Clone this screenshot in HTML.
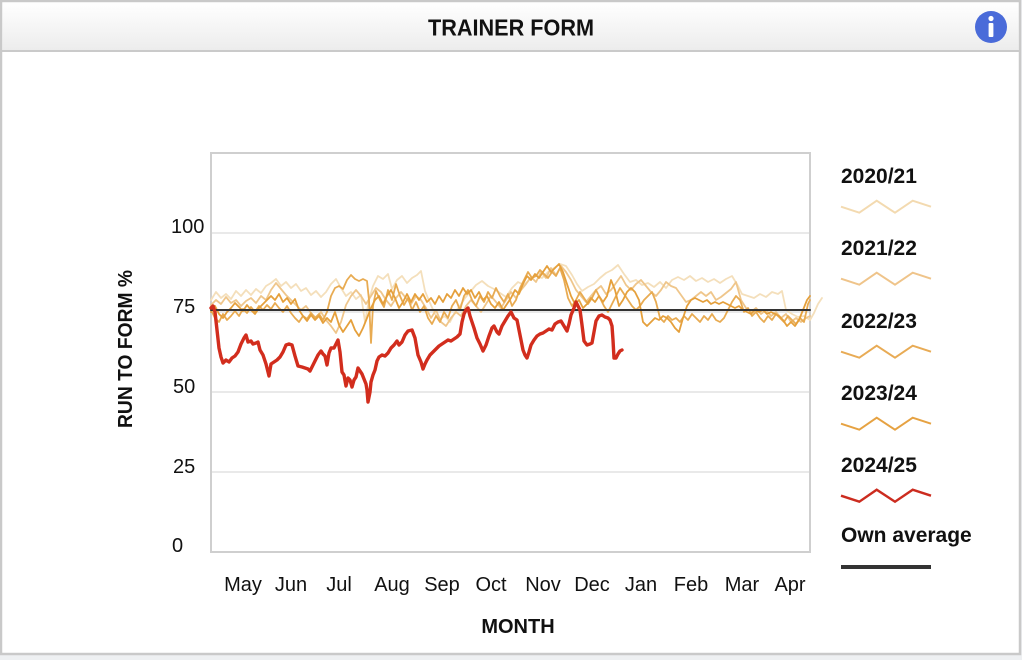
<!DOCTYPE html>
<html>
<head>
<meta charset="utf-8">
<style>
  html,body{margin:0;padding:0;background:#eef0f2;}
  body{width:1022px;height:660px;overflow:hidden;position:relative;font-family:"Liberation Sans",sans-serif;}
  svg{position:absolute;left:0;top:0;}
</style>
</head>
<body>
<svg width="1022" height="660" viewBox="0 0 1022 660" xmlns="http://www.w3.org/2000/svg" font-family="Liberation Sans, sans-serif">
  <defs>
    <linearGradient id="hdr" x1="0" y1="0" x2="0" y2="1">
      <stop offset="0" stop-color="#ffffff"/>
      <stop offset="1" stop-color="#ececec"/>
    </linearGradient>
  </defs>
  <!-- card -->
  <rect x="1" y="1" width="1019" height="653" fill="#ffffff" stroke="#c9c9c9" stroke-width="2.5"/>
  <rect x="2.5" y="2.5" width="1016" height="48" fill="url(#hdr)"/>
  <line x1="2" y1="51" x2="1019" y2="51" stroke="#cacaca" stroke-width="2"/>
  <text x="511" y="35.5" text-anchor="middle" font-size="23" font-weight="bold" fill="#111" textLength="166" lengthAdjust="spacingAndGlyphs">TRAINER FORM</text>
  <!-- info icon -->
  <ellipse cx="991" cy="27" rx="16" ry="16" fill="#4a6bd9"/>
  <circle cx="991" cy="18.5" r="2.6" fill="#fff"/>
  <rect x="988.6" y="23" width="4.8" height="14" rx="1" fill="#fff"/>

  <!-- grid -->
  <g stroke="#e2e2e2" stroke-width="1.5">
    <line x1="211" y1="233" x2="810" y2="233"/>
    <line x1="211" y1="312" x2="810" y2="312"/>
    <line x1="211" y1="392" x2="810" y2="392"/>
    <line x1="211" y1="472" x2="810" y2="472"/>
  </g>
  <rect x="211" y="153" width="599" height="399" fill="none" stroke="#cfcfcf" stroke-width="2"/>

  <!-- y labels -->
  <g font-size="20" fill="#111">
    <text x="171" y="233">100</text>
    <text x="173" y="313">75</text>
    <text x="173" y="393">50</text>
    <text x="173" y="473">25</text>
    <text x="172" y="552">0</text>
  </g>
  <text transform="translate(132,349) rotate(-90)" text-anchor="middle" font-size="20" font-weight="bold" fill="#111" textLength="158" lengthAdjust="spacingAndGlyphs">RUN TO FORM %</text>

  <!-- x labels -->
  <g font-size="20" fill="#111" text-anchor="middle">
    <text x="243" y="591">May</text>
    <text x="291" y="591">Jun</text>
    <text x="339" y="591">Jul</text>
    <text x="392" y="591">Aug</text>
    <text x="442" y="591">Sep</text>
    <text x="491" y="591">Oct</text>
    <text x="543" y="591">Nov</text>
    <text x="592" y="591">Dec</text>
    <text x="641" y="591">Jan</text>
    <text x="691" y="591">Feb</text>
    <text x="742" y="591">Mar</text>
    <text x="790" y="591">Apr</text>
  </g>
  <text x="518" y="633" text-anchor="middle" font-size="20" font-weight="bold" fill="#111">MONTH</text>

  <!-- series -->
  <g fill="none" stroke-linejoin="round" stroke-linecap="round">
    <!-- 2020/21 -->
    <polyline stroke="#f4dfbb" stroke-width="1.8" points="211,300 216,292 221,298 226,294 231,299 236,291 241,296 246,290 251,295 256,289 261,293 266,286 271,283 276,279 281,286 286,282 291,288 296,284 301,291 306,288 311,295 316,291 321,297 326,292 331,284 336,279 341,288 346,296 351,292 356,299 361,295 365,322 369,300 373,286 378,276 383,279 388,274 392,289 397,280 402,276 407,283 412,278 417,275 421,271 425,291 430,303 435,314 440,319 445,316 450,322 455,312 460,306 465,298 470,292 476,285 482,281 488,286 494,289 500,293 506,297 512,288 518,282 524,285 530,279 536,276 542,278 548,272 554,268 560,264 566,266 572,275 577,284 582,291 588,287 594,284 600,278 606,273 612,270 618,265 624,274 630,282 636,280 642,285 648,283 654,287 660,282 666,288 672,280 678,277 684,280 690,276 696,281 702,278 708,282 714,279 720,283 726,279 732,276 738,286 742,294 748,296 754,298 760,294 766,297 772,292 778,294 782,291 786,310 792,314 798,317 804,316 810,320 814,313 818,304 822,298"/>
    <!-- 2021/22 -->
    <polyline stroke="#efc68b" stroke-width="1.8" points="211,305 216,300 221,304 226,297 231,303 236,300 241,306 246,301 251,298 256,303 261,296 266,300 271,290 276,283 281,289 286,295 291,300 296,305 301,310 306,306 311,313 316,318 321,312 326,320 331,326 336,333 341,322 346,305 351,296 356,290 361,296 366,304 371,296 376,288 381,292 386,300 391,306 396,298 401,292 406,298 411,304 416,296 421,300 426,308 431,318 436,310 441,322 446,326 451,318 456,312 461,316 466,306 471,300 476,306 481,312 486,304 491,296 496,302 501,308 506,300 511,292 516,298 521,290 526,284 531,277 536,282 541,272 546,278 551,268 556,275 561,266 566,272 571,280 576,290 581,296 586,302 591,296 596,290 601,286 606,294 611,290 616,283 621,276 626,285 631,290 636,284 641,280 646,286 651,292 656,296 661,290 666,282 671,286 676,288 681,295 686,302 691,300 696,296 701,292 706,296 711,292 716,300 721,297 726,293 731,289 736,282 741,300 746,308 751,312 756,308 761,314 766,310 771,316 776,312 781,318 786,314 791,322 796,318 801,322 806,318 810,316"/>
    <!-- 2022/23 -->
    <polyline stroke="#e8ab52" stroke-width="1.8" points="211,310 215,318 219,322 223,314 227,320 231,316 235,311 239,316 243,309 247,313 251,307 255,312 259,306 263,310 267,305 271,309 275,303 279,308 283,312 287,306 291,313 295,318 299,322 303,316 307,319 311,313 315,318 319,314 323,320 327,312 331,296 335,288 339,286 343,289 347,280 351,275 355,279 359,281 363,279 367,281 369,300 371,343 373,306 376,291 380,300 384,307 388,290 392,300 396,284 400,296 404,305 408,298 412,310 416,302 420,312 424,306 428,318 432,324 436,316 440,322 444,312 448,318 452,306 456,300 460,310 464,296 468,290 472,300 476,306 480,296 484,302 488,292 492,298 496,288 500,296 504,302 508,294 512,306 516,300 520,288 524,280 528,272 532,278 536,276 540,270 544,274 548,278 552,272 556,276 560,268 564,280 568,298 572,306 576,300 580,292 584,298 588,304 592,298 596,290 600,298 604,306 608,312 612,304 616,296 620,288 624,294 628,300 632,306 636,310 640,306 644,300 648,296 652,292 656,302 660,318 664,322 668,316 672,320 676,318 680,322 684,316 688,320 692,314 696,318 700,322 704,316 708,320 712,314 716,320 720,322 724,318 728,310 732,302 736,296 740,300 744,312 748,308 752,316 756,312 760,318 764,322 768,316 772,320 776,314 780,318 784,322 788,316 792,320 796,324 800,318 804,322 808,304 810,300"/>
    <!-- 2023/24 -->
    <polyline stroke="#e5a03c" stroke-width="1.8" points="211,312 215,306 219,314 223,318 227,312 231,308 235,303 239,307 243,311 247,305 251,310 255,314 259,308 263,304 267,300 271,296 275,300 279,294 283,302 287,298 291,304 295,299 299,310 303,316 307,321 311,315 315,320 319,316 323,323 327,318 331,322 335,312 339,325 343,332 347,326 351,320 355,330 359,336 363,328 367,318 371,308 375,300 379,296 383,304 387,296 391,290 395,298 399,308 403,302 407,294 411,302 415,294 419,300 423,294 427,302 431,298 435,304 439,296 443,302 447,294 451,298 455,290 459,296 463,288 467,294 471,290 475,298 479,292 483,300 487,296 491,304 495,308 499,302 503,310 507,304 511,298 515,290 519,294 523,284 527,276 531,280 535,274 539,278 543,272 547,266 551,272 555,268 559,264 563,272 567,284 571,296 575,304 579,300 583,308 587,304 591,298 595,302 599,296 603,302 607,296 611,280 615,290 619,306 623,300 627,292 631,288 635,292 639,300 643,322 647,326 651,322 655,318 659,320 663,316 667,318 671,322 675,328 679,332 683,318 687,306 691,300 695,298 699,300 703,302 707,300 711,304 715,302 719,304 723,302 727,304 731,306 735,308 739,306 743,310 747,312 751,314 755,310 759,312 763,310 767,314 771,312 775,314 779,316 783,320 787,326 791,322 795,326 799,320 803,310 807,300 810,296"/>
    <!-- own average -->
    <line x1="211" y1="310" x2="810" y2="310" stroke="#333" stroke-width="2"/>
    <!-- 2024/25 -->
    <polyline stroke="#d22d1d" stroke-width="3.4" points="211,308 213,306 215,312 217,330 219,348 221,357 223,363 226,360 229,362 232,358 235,356 238,352 241,344 244,338 246,335 248,342 251,341 253,344 256,343 258,342 260,350 263,355 266,364 269,376 271,364 274,362 277,360 280,357 283,352 286,345 289,344 292,345 295,356 298,366 302,367 305,368 308,369 310,371 313,365 315,361 318,355 321,351 323,354 325,356 327,365 329,353 331,348 334,348 336,344 338,340 340,352 342,372 344,375 346,386 348,378 350,380 352,387 354,380 356,377 358,368 360,371 362,374 364,379 366,384 367,390 368,402 370,392 371,382 373,375 375,370 377,361 379,357 382,355 385,356 388,353 391,348 394,345 397,341 399,345 402,342 405,335 408,331 412,330 415,338 418,355 421,362 423,369 425,364 427,360 430,355 433,352 436,349 439,346 442,344 445,342 448,340 451,341 454,339 457,337 460,334 462,322 464,314 466,310 468,308 470,316 472,322 474,328 477,338 480,344 483,351 486,345 489,336 492,328 494,326 497,332 499,334 502,326 505,321 508,316 511,312 514,318 517,320 519,330 521,340 523,350 525,355 527,358 529,352 531,345 534,340 537,336 540,334 543,333 546,331 549,329 552,330 555,324 558,322 561,321 564,326 567,331 569,324 571,315 574,308 576,302 578,306 580,310 582,325 584,341 587,345 590,344 592,343 594,332 596,321 599,316 602,315 605,317 608,318 610,320 612,326 613,340 614,358 616,358 618,354 620,351 622,350"/>
  </g>

  <!-- legend -->
  <g font-size="21" font-weight="bold" fill="#111">
    <text x="841" y="183">2020/21</text>
    <text x="841" y="255">2021/22</text>
    <text x="841" y="328">2022/23</text>
    <text x="841" y="400">2023/24</text>
    <text x="841" y="472">2024/25</text>
    <text x="841" y="542">Own average</text>
  </g>
  <g fill="none" stroke-width="2" stroke-linejoin="miter">
    <polyline stroke="#f3dab0" points="841,206.7 859.3,212.7 876.7,200.7 895,212.7 912.7,200.7 931,206.7"/>
    <polyline stroke="#efc48a" points="841,278.7 859.3,284.7 876.7,272.7 895,284.7 912.7,272.7 931,278.7"/>
    <polyline stroke="#e8ab55" points="841,351.7 859.3,357.7 876.7,345.7 895,357.7 912.7,345.7 931,351.7"/>
    <polyline stroke="#e6a242" points="841,423.7 859.3,429.7 876.7,417.7 895,429.7 912.7,417.7 931,423.7"/>
    <polyline stroke="#cc2c1f" stroke-width="2.4" points="841,495.7 859.3,501.7 876.7,489.7 895,501.7 912.7,489.7 931,495.7"/>
  </g>
  <line x1="841" y1="567" x2="931" y2="567" stroke="#333" stroke-width="4"/>
</svg>
</body>
</html>
